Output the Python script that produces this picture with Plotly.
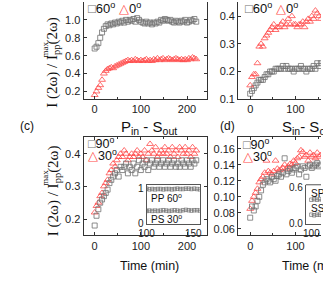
import plotly.graph_objects as go

W, H = 323, 288

# ---------------- data ----------------
t_full = [0, 4, 8, 12, 16, 20, 24, 28, 32, 36, 40, 44, 48, 52, 56, 60, 64, 68, 72, 76,
          80, 84, 88, 92, 96, 100, 104, 108, 112, 116, 120, 124, 128, 132, 136, 140,
          144, 148, 152, 156, 160, 164, 168, 172, 176, 180, 184, 188, 192, 196, 200,
          204, 208, 212, 216, 220]
t_part = t_full[:40]

a_60 = [0.68, 0.70, 0.74, 0.80, 0.86, 0.90, 0.93, 0.95, 0.94, 0.96, 0.95, 0.97, 0.96, 0.98,
        0.97, 0.99, 0.97, 1.00, 0.98, 1.00, 0.99, 1.01, 0.98, 1.02, 1.00, 0.98, 0.97, 0.96,
        0.98, 0.96, 0.97, 0.95, 0.97, 0.96, 0.98, 0.97, 1.00, 0.99, 1.01, 1.00, 0.99, 1.00,
        0.98, 0.97, 0.99, 0.98, 0.97, 0.99, 0.98, 1.00, 0.97, 0.98, 1.00, 0.99, 1.01, 0.98]
a_0 = [0.16, 0.20, 0.24, 0.27, 0.33, 0.40, 0.43, 0.45, 0.46, 0.47, 0.46, 0.48, 0.49, 0.50,
       0.51, 0.52, 0.53, 0.54, 0.55, 0.54, 0.55, 0.54, 0.56, 0.55, 0.54, 0.55, 0.54, 0.55,
       0.56, 0.54, 0.55, 0.54, 0.56, 0.55, 0.57, 0.55, 0.56, 0.57, 0.55, 0.56, 0.57, 0.56,
       0.55, 0.56, 0.57, 0.56, 0.55, 0.56, 0.55, 0.56, 0.55, 0.57, 0.56, 0.58, 0.57, 0.56]

b_0 = [0.15, 0.18, 0.19, 0.19, 0.23, 0.29, 0.30, 0.29, 0.32, 0.33, 0.34, 0.35, 0.36, 0.37,
       0.35, 0.36, 0.36, 0.37, 0.38, 0.36, 0.37, 0.39, 0.37, 0.40, 0.37, 0.37, 0.36, 0.37,
       0.37, 0.38, 0.36, 0.38, 0.39, 0.38, 0.40, 0.39, 0.42, 0.41, 0.40, 0.39]
b_60 = [0.12, 0.13, 0.14, 0.15, 0.16, 0.17, 0.17, 0.17, 0.18, 0.19, 0.19, 0.20, 0.20, 0.20,
        0.21, 0.21, 0.21, 0.21, 0.22, 0.21, 0.22, 0.21, 0.21, 0.21, 0.20, 0.21, 0.21, 0.21,
        0.22, 0.21, 0.21, 0.20, 0.21, 0.21, 0.21, 0.22, 0.21, 0.23, 0.22, 0.23]

c_30 = [0.22, 0.24, 0.25, 0.27, 0.28, 0.30, 0.31, 0.32, 0.34, 0.35, 0.37, 0.36, 0.38, 0.39,
        0.40, 0.39, 0.41, 0.40, 0.38, 0.39, 0.40, 0.39, 0.40, 0.41, 0.39, 0.40, 0.39, 0.41,
        0.38, 0.40, 0.43, 0.41, 0.40, 0.42, 0.39, 0.40, 0.41, 0.40, 0.42, 0.40, 0.41, 0.39,
        0.42, 0.40, 0.41, 0.39, 0.42, 0.41, 0.40, 0.42, 0.40, 0.41, 0.39, 0.42, 0.40, 0.41]
c_90 = [0.18, 0.21, 0.23, 0.25, 0.26, 0.27, 0.28, 0.29, 0.31, 0.32, 0.33, 0.34, 0.35, 0.33,
        0.36, 0.35, 0.36, 0.37, 0.34, 0.36, 0.35, 0.37, 0.34, 0.36, 0.38, 0.35, 0.37, 0.36,
        0.38, 0.35, 0.37, 0.38, 0.36, 0.37, 0.38, 0.36, 0.37, 0.38, 0.36, 0.37, 0.38, 0.36,
        0.37, 0.38, 0.36, 0.37, 0.36, 0.38, 0.37, 0.36, 0.38, 0.37, 0.36, 0.38, 0.37, 0.38]

d_30 = [0.085, 0.095, 0.100, 0.105, 0.110, 0.118, 0.122, 0.125, 0.130, 0.145, 0.132, 0.130,
        0.128, 0.132, 0.145, 0.135, 0.133, 0.134, 0.136, 0.140, 0.135, 0.138, 0.141, 0.140,
        0.145, 0.142, 0.148, 0.150, 0.158, 0.156, 0.150, 0.152, 0.145, 0.155, 0.150, 0.152,
        0.148, 0.155, 0.150, 0.152]
d_90 = [0.074, 0.088, 0.083, 0.088, 0.095, 0.100, 0.108, 0.115, 0.118, 0.122, 0.120, 0.118,
        0.125, 0.122, 0.120, 0.126, 0.128, 0.125, 0.130, 0.148, 0.128, 0.132, 0.135, 0.130,
        0.134, 0.136, 0.138, 0.128, 0.134, 0.138, 0.136, 0.125, 0.138, 0.140, 0.136, 0.138,
        0.140, 0.142, 0.138, 0.140]

t_ins = [100, 103, 106, 109, 112, 115, 118, 121, 124, 127, 130, 133, 136, 139, 142, 145,
         148, 151, 154, 157]
ins_pp60 = [0.99, 0.97, 0.98, 0.97, 0.98, 0.98, 0.97, 0.98, 0.98, 0.97, 0.98, 0.99, 0.98,
            0.98, 0.99, 0.99, 0.98, 0.99, 0.98, 0.97]
ins_ps30 = [0.36, 0.37, 0.36, 0.37, 0.36, 0.37, 0.38, 0.37, 0.36, 0.37, 0.38, 0.37, 0.36,
            0.38, 0.39, 0.38, 0.37, 0.38, 0.38, 0.37]
ins_sp = [0.40, 0.41, 0.40, 0.41, 0.40, 0.41, 0.40, 0.41, 0.40, 0.41, 0.40, 0.41, 0.40,
          0.41, 0.40, 0.41, 0.40, 0.41, 0.40, 0.41]
ins_ss = [0.15, 0.14, 0.15, 0.15, 0.14, 0.15, 0.15, 0.14, 0.15, 0.15, 0.14, 0.15, 0.15,
          0.14, 0.15, 0.15, 0.14, 0.15, 0.15, 0.14]

# ---------------- styling ----------------
GRAY = "#707070"
RED = "#ff4a4a"
SANS = "Liberation Sans"
SERIF = "Liberation Serif"


def px(x):
    return x / W


def py(y):
    return 1 - y / H


fig = go.Figure()


def sq(x, y, xa, ya, size=5):
    fig.add_trace(go.Scatter(x=x, y=y, xaxis=xa, yaxis=ya, mode="markers",
                             marker=dict(symbol="square-open", size=size, color=GRAY,
                                         line=dict(width=0.8, color=GRAY)),
                             showlegend=False, cliponaxis=True))


def tri(x, y, xa, ya, size=6):
    fig.add_trace(go.Scatter(x=x, y=y, xaxis=xa, yaxis=ya, mode="markers",
                             marker=dict(symbol="triangle-up-open", size=size, color=RED,
                                         line=dict(width=0.8, color=RED)),
                             showlegend=False, cliponaxis=True))


sq(t_full, a_60, "x", "y")
tri(t_full, a_0, "x", "y")
sq(t_part, b_60, "x2", "y2")
tri(t_part, b_0, "x2", "y2")
tri(t_full, c_30, "x3", "y3")
sq(t_full, c_90, "x3", "y3")
tri(t_part, d_30, "x4", "y4")
sq(t_part, d_90, "x4", "y4")

for yy, xa, ya in [(ins_pp60, "x5", "y5"), (ins_ps30, "x5", "y5"),
                   (ins_sp, "x6", "y6"), (ins_ss, "x6", "y6")]:
    fig.add_trace(go.Scatter(x=t_ins, y=yy, xaxis=xa, yaxis=ya, mode="lines+markers",
                             line=dict(color=GRAY, width=0.7),
                             marker=dict(symbol="square-open", size=3.5, color=GRAY,
                                         line=dict(width=0.7, color=GRAY)),
                             showlegend=False))

tickfont = dict(family=SANS, size=11, color="#222")
AX = "#333"


def xax(dom, rng, anchor, mirror):
    return dict(domain=dom, range=rng, anchor=anchor, showgrid=False, zeroline=False,
                showline=True, linecolor=AX, linewidth=1, mirror=mirror,
                ticks="inside", ticklen=3, tickcolor=AX, tickvals=[0, 100, 200],
                minor=dict(ticks="inside", ticklen=2, tickvals=[50, 150], tickcolor=AX),
                tickfont=tickfont)


def yax(dom, rng, anchor, mirror, tv, fmt):
    return dict(domain=dom, range=rng, anchor=anchor, showgrid=False, zeroline=False,
                showline=True, linecolor=AX, linewidth=1, mirror=mirror,
                ticks="inside", ticklen=3, tickcolor=AX, tickvals=tv,
                tickformat=fmt, tickfont=tickfont)


xa_dom_l = [px(78), px(205.7)]
xa_dom_r = [px(237.5), 1.0]
ya_dom_t = [py(100), 1.0]
ya_dom_b = [py(240), py(139.3)]

fig.update_layout(
    width=W, height=H, margin=dict(l=0, r=0, t=0, b=0),
    paper_bgcolor="white", plot_bgcolor="white",
    xaxis=xax(xa_dom_l, [-24, 244], "y", False),
    yaxis=yax(ya_dom_t, [0.113, 1.2], "x", "ticks", [0.2, 0.4, 0.6, 0.8, 1.0, 1.2], ".1f"),
    xaxis2=xax(xa_dom_r, [-26.6, 156.3], "y2", False),
    yaxis2=yax(ya_dom_t, [0.1, 0.451], "x2", False, [0.1, 0.2, 0.3, 0.4, 0.5], ".1f"),
    xaxis3=xax(xa_dom_l, [-24, 244], "y3", "ticks"),
    yaxis3=yax(ya_dom_b, [0.15, 0.45], "x3", "ticks", [0.2, 0.3, 0.4], ".1f"),
    xaxis4=xax(xa_dom_r, [-26.6, 156.3], "y4", "ticks"),
    yaxis4=yax(ya_dom_b, [0.052, 0.174], "x4", False,
               [0.06, 0.08, 0.10, 0.12, 0.14, 0.16], ".2f"),
)

ins_font = dict(family=SANS, size=10, color="#222")
fig.update_layout(
    xaxis5=dict(domain=[px(143), px(198)], range=[100, 157], anchor="y5", showgrid=False,
                zeroline=False, showline=True, linecolor="#555", mirror=True,
                ticks="", tickvals=[100, 150], tickfont=ins_font, ticklabelstandoff=0),
    yaxis5=dict(domain=[py(228), py(188)], range=[0, 1.1], anchor="x5", showgrid=False,
                zeroline=False, showline=True, linecolor="#555", mirror=True,
                ticks="", tickvals=[0, 1], tickfont=ins_font, ticklabelstandoff=0),
    xaxis6=dict(domain=[px(307.3), 1.0], range=[94, 110.3], anchor="y6", showgrid=False,
                zeroline=False, showline=True, linecolor="#555", mirror=False,
                ticks="", tickvals=[100, 150], tickfont=ins_font, ticklabelstandoff=0),
    yaxis6=dict(domain=[py(228), py(188)], range=[0, 0.65], anchor="x6", showgrid=False,
                zeroline=False, showline=True, linecolor="#555", mirror=False,
                ticks="", tickvals=[0, 0.6], tickformat=".1f", tickfont=ins_font,
                ticklabelstandoff=0),
)

# top edge of the (d) inset box
fig.add_shape(type="line", xref="paper", yref="paper", x0=px(307.3), x1=1.0,
              y0=py(188), y1=py(188), line=dict(color="#555", width=1))

ann = []


def A(x, y, text, size=11, family=SANS, xanchor="center", angle=0, color="#111"):
    ann.append(dict(x=px(x), y=py(y), xref="paper", yref="paper", text=text,
                    showarrow=False, xanchor=xanchor, yanchor="middle",
                    textangle=angle, font=dict(family=family, size=size, color=color)))


SQ = f"<span style='color:{GRAY}'>□</span>"
TR = f"<span style='color:{RED}'>△</span>"
A(81, 6, f"{SQ}60<sup>o</sup> {TR}0<sup>o</sup>", size=13, xanchor="left")
A(242, 6, f"{SQ}60<sup>o</sup> {TR}0<sup>o</sup>", size=13, xanchor="left")
A(80, 145, f"{SQ}90<sup>o</sup>", size=12.5, xanchor="left")
A(80, 157, f"{TR}30<sup>o</sup>", size=12.5, xanchor="left")
A(240, 146, f"{SQ}90<sup>o</sup>", size=12.5, xanchor="left")
A(240, 158, f"{TR}30<sup>o</sup>", size=12.5, xanchor="left")

A(20, 128, "(c)", size=12)
A(227, 128, "(d)", size=12)
A(146, 129, "P<sub>in</sub> - S<sub>out</sub>", size=15)
A(281, 129, "S<sub>in</sub>- S<sub>out</sub>", size=15, xanchor="left")
A(146, 272, "Time (min)", size=12.5)
A(281, 272, "Time (min)", size=12.5, xanchor="left")

A(146, 202, "PP 60<sup>o</sup>", size=10, xanchor="left")
A(146, 223, "PS 30<sup>o</sup>", size=10, xanchor="left")
A(311, 196, "SP 0<sup>o</sup>", size=10, xanchor="left")
A(311, 212, "SS 30<sup>o</sup>", size=10, xanchor="left")

ytitle = "I (2ω) / I<sub>pp</sub>(2ω)"
A(47, 62, ytitle, size=15, family=SERIF, angle=-90)
A(47, 194, ytitle, size=15, family=SERIF, angle=-90)
# stacked "max" above the "pp" subscript
A(38, 49, "max", size=9, family=SERIF, angle=-90)
A(38, 181, "max", size=9, family=SERIF, angle=-90)

fig.update_layout(annotations=ann)
fig.write_html("out.html", config={"displayModeBar": False},
               post_script="document.body.style.margin='0px';")
